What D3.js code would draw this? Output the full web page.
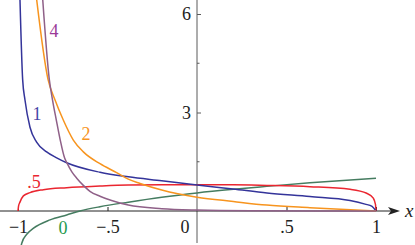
<!DOCTYPE html>
<html>
<head>
<meta charset="utf-8">
<script src="https://cdn.jsdelivr.net/npm/d3@7"></script>
</head>
<body style="margin:0">
<svg id="chart" width="415" height="245" font-family="Liberation Serif"></svg>
<script>
// Data
const xTicks = [-1, -0.5, 0.5, 1];
const xTickLabels = ['\u22121', '\u2212.5', '.5', '1'];
const yTicks = [3, 6];
const yMinorTicks = [1.5, 4.5];

// curve "0"
const xGreen = [-0.990, -0.979, -0.950, -0.915, -0.821, -0.728, -0.654, -0.542, -0.384, -0.197, 0, 0.203, 0.39, 0.631, 1];
const yGreen = [-1.30, -0.98, -0.70, -0.53, -0.27, -0.12, 0, 0.13, 0.27, 0.42, 0.55, 0.66, 0.75, 0.86, 1.0];

// curve ".5"
const xRed = [-1, -0.997, -0.989, -0.970, -0.933, -0.858, -0.728, -0.542, -0.384, -0.197, 0, 0.201, 0.391, 0.631, 0.855, 0.948, 0.985, 0.997, 1];
const yRed = [0, 0.15, 0.27, 0.46, 0.56, 0.65, 0.71, 0.76, 0.79, 0.80, 0.80, 0.80, 0.78, 0.74, 0.66, 0.54, 0.39, 0.20, 0];

// curve "1"
const xBlue = [-0.989, -0.974, -0.961, -0.933, -0.896, -0.840, -0.784, -0.728, -0.542, -0.384, -0.197, 0, 0.201, 0.391, 0.631, 0.855, 0.939, 0.978, 1];
const yBlue = [6.45, 4.0, 3.38, 2.55, 2.10, 1.80, 1.62, 1.47, 1.18, 1.04, 0.92, 0.79, 0.67, 0.55, 0.44, 0.32, 0.21, 0.14, 0];

// curve "2"
const xOrange = [-0.896, -0.832, -0.793, -0.747, -0.691, -0.635, -0.542, -0.449, -0.384, -0.318, -0.197, 0, 0.203, 0.39, 0.631, 1];
const yOrange = [6.45, 4.0, 3.38, 2.77, 2.16, 1.80, 1.44, 1.17, 0.97, 0.84, 0.64, 0.42, 0.29, 0.18, 0.10, 0];

// curve "4"
const xPurple = [-0.862, -0.825, -0.807, -0.786, -0.764, -0.740, -0.728, -0.700, -0.672, -0.635, -0.598, -0.542, -0.477, -0.384, -0.197, 0, 0.3, 1];
const yPurple = [6.45, 4.0, 3.38, 2.77, 2.16, 1.62, 1.48, 1.20, 1.00, 0.78, 0.60, 0.45, 0.32, 0.18, 0.07, 0.03, 0.01, 0];

const series = [
  { name: '0', xs: xGreen, ys: yGreen, color: '#457c60', labelColor: '#1f9a4e', lx: 63, ly: 234 },
  { name: '.5', xs: xRed, ys: yRed, color: '#ea2630', labelColor: '#ea2630', lx: 34, ly: 188 },
  { name: '1', xs: xBlue, ys: yBlue, color: '#34349a', labelColor: '#4646a6', lx: 37, ly: 120 },
  { name: '2', xs: xOrange, ys: yOrange, color: '#f7941e', labelColor: '#f7941e', lx: 86, ly: 140 },
  { name: '4', xs: xPurple, ys: yPurple, color: '#8f6088', labelColor: '#9a3a98', lx: 54, ly: 37 }
];

const svg = d3.select('#chart');
const width = 415;
const height = 245;
const fontName = 'Liberation Serif';

// Scales
const x = d3.scaleLinear().domain([-1, 1]).range([18, 376]);
const y = d3.scaleLinear().domain([0, 6]).range([211, 14]);

// Axes lines
svg.append('line')
  .attr('x1', x(0)).attr('x2', x(0))
  .attr('y1', 0).attr('y2', 243)
  .attr('stroke', '#5a5a5a').attr('stroke-width', 1);

svg.append('line')
  .attr('x1', 0).attr('x2', 392)
  .attr('y1', y(0)).attr('y2', y(0))
  .attr('stroke', '#222').attr('stroke-width', 1);

svg.append('path')
  .attr('d', 'M388,' + (y(0) - 4) + 'L400,' + y(0) + 'L388,' + (y(0) + 4) + 'L391,' + y(0) + 'Z')
  .attr('fill', '#222');

svg.append('text')
  .attr('x', 405).attr('y', 217)
  .attr('font-family', fontName)
  .attr('font-size', 19).attr('font-style', 'italic')
  .attr('fill', '#222')
  .text('x');

// x axis ticks
const xAxis = d3.axisBottom(x)
  .tickValues(xTicks)
  .tickFormat((d, i) => xTickLabels[i])
  .tickSizeInner(-4)
  .tickSizeOuter(0)
  .tickPadding(9);

const gx = svg.append('g')
  .attr('transform', 'translate(0,' + y(0) + ')')
  .call(xAxis);
gx.select('.domain').remove();
gx.selectAll('line').attr('stroke', '#222');
gx.selectAll('text')
  .attr('font-family', fontName)
  .attr('font-size', 18)
  .attr('fill', '#222');

svg.append('text')
  .attr('x', x(0) - 12).attr('y', 233)
  .attr('text-anchor', 'middle')
  .attr('font-family', fontName)
  .attr('font-size', 18).attr('fill', '#222')
  .text('0');

// y axis ticks
const yAxis = d3.axisLeft(y)
  .tickValues(yTicks)
  .tickFormat(d3.format('d'))
  .tickSizeInner(-4)
  .tickSizeOuter(0)
  .tickPadding(6);

const gy = svg.append('g')
  .attr('transform', 'translate(' + x(0) + ',0)')
  .call(yAxis);
gy.select('.domain').remove();
gy.selectAll('line').attr('stroke', '#5a5a5a');
gy.selectAll('text')
  .attr('font-family', fontName)
  .attr('font-size', 18)
  .attr('fill', '#222');

svg.append('g')
  .selectAll('line')
  .data(yMinorTicks)
  .enter().append('line')
  .attr('x1', x(0)).attr('x2', x(0) + 2.5)
  .attr('y1', d => y(d)).attr('y2', d => y(d))
  .attr('stroke', '#5a5a5a');

// Curves
const line = d3.line()
  .x(d => x(d[0]))
  .y(d => y(d[1]))
  .curve(d3.curveMonotoneX);

svg.append('clipPath').attr('id', 'clip')
  .append('rect').attr('x', 0).attr('y', 0).attr('width', width).attr('height', height);

const curves = svg.append('g').attr('clip-path', 'url(#clip)');
series.forEach(s => {
  const pts = s.xs.map((v, i) => [v, s.ys[i]]);
  curves.append('path')
    .datum(pts)
    .attr('d', line)
    .attr('fill', 'none')
    .attr('stroke', s.color)
    .attr('stroke-width', 1.5);
});

// Curve labels
svg.append('g')
  .selectAll('text')
  .data(series)
  .enter().append('text')
  .attr('x', d => d.lx)
  .attr('y', d => d.ly)
  .attr('text-anchor', 'middle')
  .attr('font-family', fontName)
  .attr('font-size', 18)
  .attr('fill', d => d.labelColor)
  .text(d => d.name);
</script>
</body>
</html>
